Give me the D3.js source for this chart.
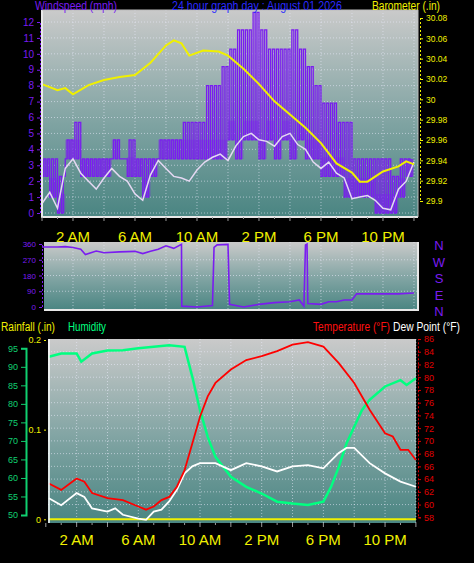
<!DOCTYPE html>
<html><head><meta charset="utf-8">
<script src="https://cdn.jsdelivr.net/npm/d3@7/dist/d3.min.js"></script>
<style>body{margin:0;background:#000}svg{display:block;font-family:"Liberation Sans",Arial,sans-serif}</style>
</head><body><svg width="474" height="563"></svg>
<script>
// half-hour samples, hour 0..24
const windHours = d3.range(0, 24.5, 0.5);
const windHigh = [3.4,3.4,2.3,4.6,5.7,3.4,3.4,3.4,3.4,4.6,3.4,4.6,3.4,3.4,3.4,4.6,4.6,4.6,5.7,5.7,5.7,8.0,8.0,9.2,10.3,11.5,11.5,12.6,11.5,10.3,10.3,10.3,11.5,10.3,9.2,8.0,6.9,6.9,5.7,5.7,3.4,3.4,3.4,3.4,3.4,2.3,3.4,3.4,5.7];
const windLow = [2.3,1.0,0,3.4,3.4,2.3,2.3,2.3,2.3,3.4,3.4,2.3,2.3,1.0,2.3,3.4,3.4,3.4,3.4,3.4,3.4,3.4,3.4,3.4,4.6,3.4,4.6,4.6,3.4,4.6,3.4,4.6,3.4,4.6,3.4,3.4,2.3,2.3,2.3,1.0,1.0,1.0,1.0,0,0,0,1.0,2.3,2.3];
const windAvg = [0.6,1.3,0.3,2.8,3.4,2.5,2.0,1.5,2.2,2.8,2.3,2.0,1.2,0.8,2.4,3.3,2.8,2.3,2.2,2.0,2.7,3.2,3.5,3.7,3.3,4.2,4.8,5.0,4.6,4.5,4.2,4.8,5.0,4.3,4.0,3.2,2.8,3.2,2.5,2.2,0.9,1.0,1.1,0.8,0.3,0.2,1.5,2.0,3.2];

const baroHours = [0,0.5,1,1.5,2,3,4,5,6,7,8,8.5,9,9.5,10.4,11.4,12,13,14,15,16,17,18,19,20,20.5,21,22,23,23.5,24];
const baro = [30.015,30.012,30.009,30.011,30.005,30.014,30.019,30.022,30.024,30.036,30.053,30.058,30.055,30.043,30.048,30.047,30.043,30.030,30.015,29.998,29.985,29.972,29.957,29.937,29.928,29.919,29.919,29.929,29.934,29.939,29.936];

const dirHours = [0,1,1.5,2,2.5,2.8,3.5,4,5,6,6.5,7,7.5,8,8.5,9,9.02,10,11,11.1,11.3,12,12.1,13,14,15,16,16.6,16.9,17,17.1,17.15,18,18.5,19,19.5,20,20.3,22,23,24];
const windDir = [343,343,345,340,330,300,320,310,315,318,305,318,330,350,335,358,5,0,8,340,355,358,15,0,15,25,30,40,5,355,360,20,15,30,30,40,40,75,75,75,80];

const thHours = [0.2,1,2,2.5,3,4,5,6,6.5,7,7.5,8,8.5,9,9.5,10,10.5,11,12,13,14,15,16,17,18,19,20,21,22,22.5,23,23.5,24];
const temp = [63.3,62.3,64.1,63.6,61.8,61.0,60.7,59.7,59.2,59.7,60.7,61.2,62.8,65.4,69.6,73.8,77.0,79.1,81.2,82.7,83.3,84.1,85.1,85.5,84.8,82.2,79.1,74.9,71.2,70.7,68.6,68.6,67.0];
const dewHours = [0.2,1,2,2.5,3,4,4.5,5,6,6.5,7,7.5,8,8.5,9,9.5,10,11,12,13,14,15,16,17,18,19,19.5,20,21,22,23,24];
const dew = [61.0,59.9,61.8,61.2,59.4,58.9,59.4,58.4,57.8,57.6,58.9,59.2,60.5,62.3,64.9,66.0,66.5,66.5,65.4,66.5,66.0,65.2,66.0,66.2,65.7,68.1,68.9,68.9,66.5,64.9,63.6,62.8];
const humHours = [0.2,1,2,2.3,3,4,5,6,7,8,9,9.5,10,10.5,11,12,13,14,15,16,17,18,18.5,19,19.5,20,20.5,21,22,23,23.4,24];
const humidity = [92.7,93.6,93.6,91.4,93.6,94.4,94.5,95,95.4,95.8,95.4,87.3,78.3,71.1,65.7,60.3,57.6,55.8,53.6,53.1,52.7,53.6,57.6,63.0,69.3,73.8,78.3,81.1,84.7,86.4,85.1,86.9];
const rainHours = [0.2,24];
const rain = [0,0];

const timeTicks = [2,6,10,14,18,22];
const timeLabels = ["2 AM","6 AM","10 AM","2 PM","6 PM","10 PM"];
const windTicks = d3.range(0,13);
const baroTicks = [29.9,29.92,29.94,29.96,29.98,30,30.02,30.04,30.06,30.08];
const dirTicks = [0,90,180,270,360];
const dirLetters = ["N","W","S","E","N"];
const humTicks = [50,55,60,65,70,75,80,85,90,95];
const tempTicks = d3.range(58,87,2);

const svg = d3.select("svg");
const defs = svg.append("defs");
const grad = defs.append("linearGradient").attr("id","bg").attr("x1",0).attr("x2",0).attr("y1",0).attr("y2",1);
grad.append("stop").attr("offset","0%").attr("stop-color","#cacaca");
grad.append("stop").attr("offset","55%").attr("stop-color","#7fa3a2");
grad.append("stop").attr("offset","100%").attr("stop-color","#4a8582");

const PURPLE = "#7a1cf0", YEL = "#f0f000";

function panel(x0, x1, y0, y1) {
  svg.append("rect").attr("x",x0).attr("y",y0).attr("width",x1-x0).attr("height",y1-y0).attr("fill","url(#bg)");
}
function grid(xs, ys, xh, yh, x0, x1, y0, y1) {
  const g = svg.append("g").attr("stroke","#eef").attr("stroke-opacity",0.55).attr("stroke-dasharray","1,2");
  xh.forEach(h => g.append("line").attr("x1",xs(h)).attr("x2",xs(h)).attr("y1",y0).attr("y2",y1));
  yh.forEach(v => g.append("line").attr("x1",x0).attr("x2",x1).attr("y1",ys(v)).attr("y2",ys(v)));
}
function border(x0, x1, y0, y1) {
  svg.append("path").attr("d",`M${x0},${y0}V${y1}H${x1}`).attr("stroke","#e8e8e8").attr("stroke-width",2).attr("fill","none");
  svg.append("path").attr("d",`M${x0},${y0}H${x1}V${y1}`).attr("stroke","#bbb").attr("stroke-width",1).attr("fill","none");
}
function label(x, y, color, size, len, txt) {
  svg.append("text").attr("x",x).attr("y",y).attr("fill",color).attr("font-size",size)
    .attr("textLength",len).attr("lengthAdjust","spacingAndGlyphs").text(txt);
}
function timeAxis(xs, y, ly) {
  const g = svg.append("g");
  d3.range(0,25).forEach(h => g.append("line").attr("x1",xs(h)).attr("x2",xs(h)).attr("y1",y).attr("y2",y+(h%2?2:4)).attr("stroke","#999"));
  timeTicks.forEach((h,i) => g.append("text").attr("x",xs(h)).attr("y",ly).attr("text-anchor","middle")
    .attr("fill",YEL).attr("font-size",15).text(timeLabels[i]));
}

// ---------- top: wind + barometer ----------
const xT = d3.scaleLinear().domain([0,24.26]).range([42,418]);
const yW = d3.scaleLinear().domain([0,12]).range([213,22]);
const yB = d3.scaleLinear().domain([29.9,30.08]).range([201,18]);
panel(42,418,10,217);
grid(xT, yW, d3.range(2,25,2), d3.range(0,13), 42, 418, 10, 217);

// zigzag between low and high, two swings per sample
const zig = [];
windHours.forEach((h,i) => {
  if (h >= 24) return;
  [0,0.12,0.25,0.37].forEach((o,k) => zig.push([h+o, k%2 ? windHigh[i] : windLow[i]]));
});
svg.append("path").datum(windHours.map((h,i)=>[h,windLow[i],Math.min(windHigh[i], windLow[i]+1.2)]))
  .attr("fill",PURPLE).attr("fill-opacity",0.35)
  .attr("d", d3.area().x(d=>xT(d[0])).y0(d=>yW(d[1])).y1(d=>yW(d[2])).curve(d3.curveStepAfter));
svg.append("path").datum(zig).attr("fill","none").attr("stroke",PURPLE).attr("stroke-width",1.3)
  .attr("d", d3.line().x(d=>xT(d[0])).y(d=>yW(d[1])).curve(d3.curveStepAfter));
svg.append("path").datum(windAvg).attr("fill","none").attr("stroke","#e4d8f2").attr("stroke-width",1.5)
  .attr("d", d3.line().x((d,i)=>xT(windHours[i])).y(d=>yW(d)));
svg.append("path").datum(baro).attr("fill","none").attr("stroke",YEL).attr("stroke-width",2)
  .attr("d", d3.line().x((d,i)=>xT(baroHours[i])).y(d=>yB(d)));
border(42,418,10,217);

const la = svg.append("g").attr("transform","translate(40,0)")
  .call(d3.axisLeft(yW).tickValues(windTicks).tickSize(3).tickFormat(d3.format("d")));
la.selectAll("text").attr("fill",PURPLE).attr("font-size",10).attr("font-family","Liberation Sans");
la.selectAll("line").attr("stroke",PURPLE); la.select(".domain").attr("stroke",PURPLE).attr("stroke-dasharray","2,2");
const ra = svg.append("g").attr("transform","translate(420,0)")
  .call(d3.axisRight(yB).tickValues(baroTicks).tickSize(3).tickFormat(d=>String(+d.toFixed(2))));
ra.selectAll("text").attr("fill",YEL).attr("font-size",8.5).attr("font-family","Liberation Sans Narrow, Liberation Sans");
ra.selectAll("line").attr("stroke",YEL); ra.select(".domain").attr("stroke",YEL).attr("stroke-dasharray","2,2");
timeAxis(xT, 217, 242);

label(35, 10, PURPLE, 12, 82, "Windspeed (mph)");
label(172, 10, "#2a2aff", 12, 170, "24 hour graph day : August 01 2026");
label(372, 10, YEL, 12, 68, "Barometer (.in)");

// ---------- middle: wind direction ----------
const yD = d3.scaleLinear().domain([0,360]).range([307,244]);
panel(44,418,242,310);
grid(xT, yD, d3.range(2,25,2), [90,180,270], 44, 418, 242, 310);
svg.append("path").datum(windDir).attr("fill","none").attr("stroke",PURPLE).attr("stroke-width",1.6)
  .attr("d", d3.line().x((d,i)=>xT(dirHours[i])).y(d=>yD(d)));
svg.append("path").attr("d","M44,310H418V242").attr("stroke","#e8e8e8").attr("stroke-width",2).attr("fill","none");
const da = svg.append("g").attr("transform","translate(42,0)")
  .call(d3.axisLeft(yD).tickValues(dirTicks).tickSize(3));
da.selectAll("text").attr("fill",PURPLE).attr("font-size",8).attr("font-family","Liberation Sans");
da.selectAll("line").attr("stroke",PURPLE); da.select(".domain").attr("stroke",PURPLE).attr("stroke-dasharray","2,2");
dirLetters.forEach((l,i) => svg.append("text").attr("x",439).attr("y",250+i*16.5).attr("text-anchor","middle")
  .attr("fill",PURPLE).attr("font-size",13).text(l));

// ---------- bottom: humidity / temperature / dew / rain ----------
label(1, 331, YEL, 12, 54, "Rainfall (.in)");
label(68, 331, "#00ff80", 12, 38, "Humidity");
label(313, 331, "#ff1010", 12, 77, "Temperature (°F)");
label(393, 331, "#fff", 12, 67, "Dew Point (°F)");

const xB = d3.scaleLinear().domain([0,24]).range([45.8,415.9]);
const yH = d3.scaleLinear().domain([50,95]).range([515,348.3]);
const yTmp = d3.scaleLinear().domain([58,86]).range([517.3,339]);
const yR = d3.scaleLinear().domain([0,0.2]).range([519.3,340]);
panel(48,416,339,523);
grid(xB, yTmp, d3.range(2,25,2), d3.range(60,86,2), 48, 416, 339, 523);

svg.append("path").datum(rain).attr("fill","none").attr("stroke",YEL).attr("stroke-width",2)
  .attr("d", d3.line().x((d,i)=>xB(rainHours[i])).y(d=>yR(d)));
svg.append("path").datum(humidity).attr("fill","none").attr("stroke","#00ff80").attr("stroke-width",2.5)
  .attr("d", d3.line().x((d,i)=>xB(humHours[i])).y(d=>yH(d)));
svg.append("path").datum(dew).attr("fill","none").attr("stroke","#fff").attr("stroke-width",1.8)
  .attr("d", d3.line().x((d,i)=>xB(dewHours[i])).y(d=>yTmp(d)));
svg.append("path").datum(temp).attr("fill","none").attr("stroke","#ff0000").attr("stroke-width",1.8)
  .attr("d", d3.line().x((d,i)=>xB(thHours[i])).y(d=>yTmp(d)));
svg.append("line").attr("x1",49).attr("x2",49).attr("y1",339).attr("y2",523).attr("stroke","#fff").attr("stroke-width",1.5);

const ha = svg.append("g").attr("transform","translate(26,0)")
  .call(d3.axisLeft(yH).tickValues(humTicks).tickSize(5));
ha.selectAll("text").attr("fill","#10d070").attr("font-size",9).attr("font-family","Liberation Sans");
ha.selectAll("line").attr("stroke","#10d070"); ha.select(".domain").attr("stroke","#10d070").attr("stroke-width",2);
const rA = svg.append("g").attr("transform","translate(46,0)")
  .call(d3.axisLeft(yR).tickValues([0,0.1,0.2]).tickSize(2).tickFormat(d=>String(+d.toFixed(1))));
rA.selectAll("text").attr("fill",YEL).attr("font-size",9).attr("font-family","Liberation Sans");
rA.selectAll("line").attr("stroke",YEL); rA.select(".domain").remove();
const ta = svg.append("g").attr("transform","translate(418,0)")
  .call(d3.axisRight(yTmp).tickValues(tempTicks).tickSize(3));
ta.selectAll("text").attr("fill","#e00000").attr("font-size",9).attr("font-family","Liberation Sans");
ta.selectAll("line").attr("stroke","#d00"); ta.select(".domain").attr("stroke","#d00").attr("stroke-dasharray","2,2");
timeAxis(xB, 523, 545);
</script></body></html>
